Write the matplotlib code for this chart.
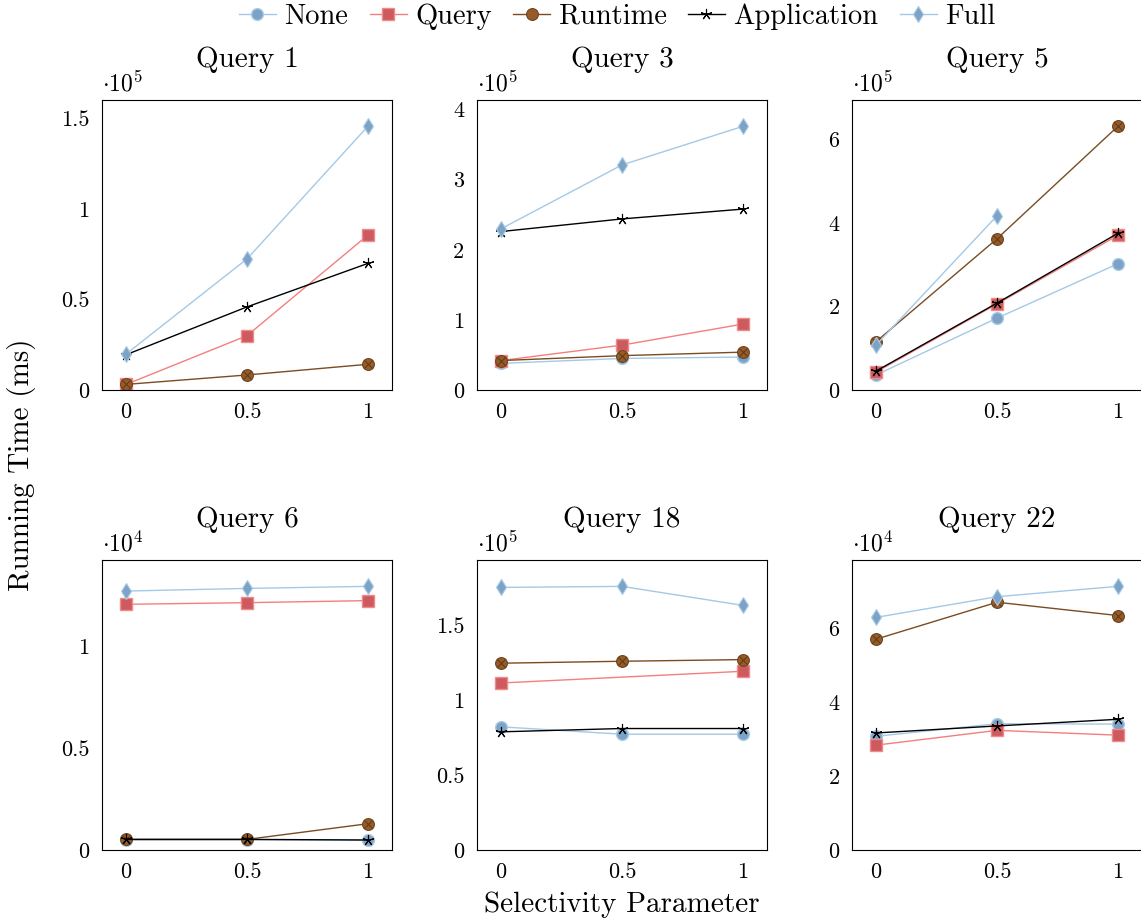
import numpy as np
import matplotlib
matplotlib.use("Agg")
import matplotlib.pyplot as plt
from matplotlib.ticker import FuncFormatter

plt.rcParams['font.family'] = ['cmr10', 'DejaVu Serif']
plt.rcParams['mathtext.fontset'] = 'cm'
plt.rcParams['axes.unicode_minus'] = False
plt.rcParams['axes.formatter.use_mathtext'] = True

# selectivity parameter
sel = [0, 0.5, 1]
nan = np.nan

queries = ["Query 1", "Query 3", "Query 5", "Query 6", "Query 18", "Query 22"]

# running times in ms, one list per query: [sel=0, sel=0.5, sel=1]
none_ms = [
    [nan, nan, nan],
    [38000, 45000, 47000],
    [36000, 172000, 302000],
    [500, 500, 490],
    [82200, 77300, 77300],
    [30800, 34200, 34100],
]
query_ms = [
    [3100, 30000, 85500],
    [42000, 64000, 94000],
    [43000, 206000, 370000],
    [12060, 12140, 12240],
    [111500, nan, 119300],
    [28400, 32400, 31100],
]
runtime_ms = [
    [3100, 8300, 14200],
    [42000, 49000, 54000],
    [116000, 362000, 631000],
    [520, 520, 1290],
    [124700, 126000, 127100],
    [57100, 67100, 63500],
]
application_ms = [
    [19500, 45900, 69900],
    [226000, 244000, 258000],
    [45500, 208000, 375000],
    [520, 520, 490],
    [78900, 81100, 81100],
    [31700, 33600, 35400],
]
full_ms = [
    [19900, 72400, 145600],
    [230000, 321000, 376000],
    [108000, 417000, nan],
    [12710, 12840, 12940],
    [175300, 176000, 163300],
    [63000, 68600, 71400],
]

exponents = [5, 5, 5, 4, 5, 4]
yticks = [
    [0, 0.5, 1, 1.5],
    [0, 1, 2, 3, 4],
    [0, 2, 4, 6],
    [0, 0.5, 1],
    [0, 0.5, 1, 1.5],
    [0, 2, 4, 6],
]

styles = {
    "None": dict(color="#a3c9e6", marker="o", ms=8.5, mfc="#7ca3c6", mec="#a8cbe6", mew=1.0),
    "Query": dict(color="#f47f7f", marker="s", ms=8.5, mfc="#cd5a5e", mec="#f28a8a", mew=1.0),
    "Runtime": dict(color="#7a4c22", marker="o", ms=8.5, mfc="#985b27", mec="#6b4420", mew=0.8),
    "Application": dict(color="black", marker=(5, 2, 0), ms=8, mfc="black", mec="black", mew=0.8),
    "Full": dict(color="#a3c9e6", marker="d", ms=8, mfc="#7ca3c6", mec="#a8cbe6", mew=0.8),
}
series = [("None", none_ms), ("Query", query_ms), ("Runtime", runtime_ms),
          ("Application", application_ms), ("Full", full_ms)]

fig = plt.figure(figsize=(11.41, 9.24), dpi=100)
W, H = 1141, 924
lefts = [102, 477, 852]
tops = [100, 560]
aw, ah = 290, 290

handles = {}
for i, q in enumerate(queries):
    row, col = divmod(i, 3)
    ax = fig.add_axes([lefts[col] / W, 1 - (tops[row] + ah) / H, aw / W, ah / H])
    scale = 10 ** exponents[i]
    ymax = 0
    for name, data in series:
        y = np.array(data[i], dtype=float)
        x = np.array(sel, dtype=float)
        ok = ~np.isnan(y)
        if not ok.any():
            continue
        st = styles[name]
        h, = ax.plot(x[ok], y[ok], lw=1.0, label=name, **st)
        if name == "Runtime":
            ax.plot(x[ok], y[ok], ls="none", marker="x", ms=5.5, mec="#5a3817", mew=0.7)
        handles.setdefault(name, h)
        ymax = max(ymax, np.nanmax(y))
    ax.set_xlim(-0.1, 1.1)
    ax.set_ylim(0, ymax * 1.1)
    ax.set_xticks(sel)
    ax.xaxis.set_major_formatter(FuncFormatter(lambda v, p: f"{v:g}"))
    ax.set_yticks([t * scale for t in yticks[i]])
    ax.yaxis.set_major_formatter(FuncFormatter(lambda v, p, s=scale: f"{v / s:g}"))
    ax.tick_params(length=0, labelsize=16, pad=9)
    for sp in ax.spines.values():
        sp.set_linewidth(0.8)
    ax.set_title(q, fontsize=21, pad=24)
    ax.text(0, 1.012, r"$\cdot 10^{%d}$" % exponents[i], transform=ax.transAxes,
            ha="left", va="bottom", fontsize=17)

fig.legend([handles[n] for n, _ in series], [n for n, _ in series],
           loc="upper center", bbox_to_anchor=(0.541, 1.024), ncol=5, frameon=False,
           fontsize=20.5, handlelength=1.3, handletextpad=0.3, columnspacing=0.75)

fig.text(22 / W, 0.497, "Running Time (ms)", rotation=90, ha="center", va="center", fontsize=21)
fig.text(0.545, 0.021, "Selectivity Parameter", ha="center", va="center", fontsize=21)

fig.savefig("out.png", dpi=100)
